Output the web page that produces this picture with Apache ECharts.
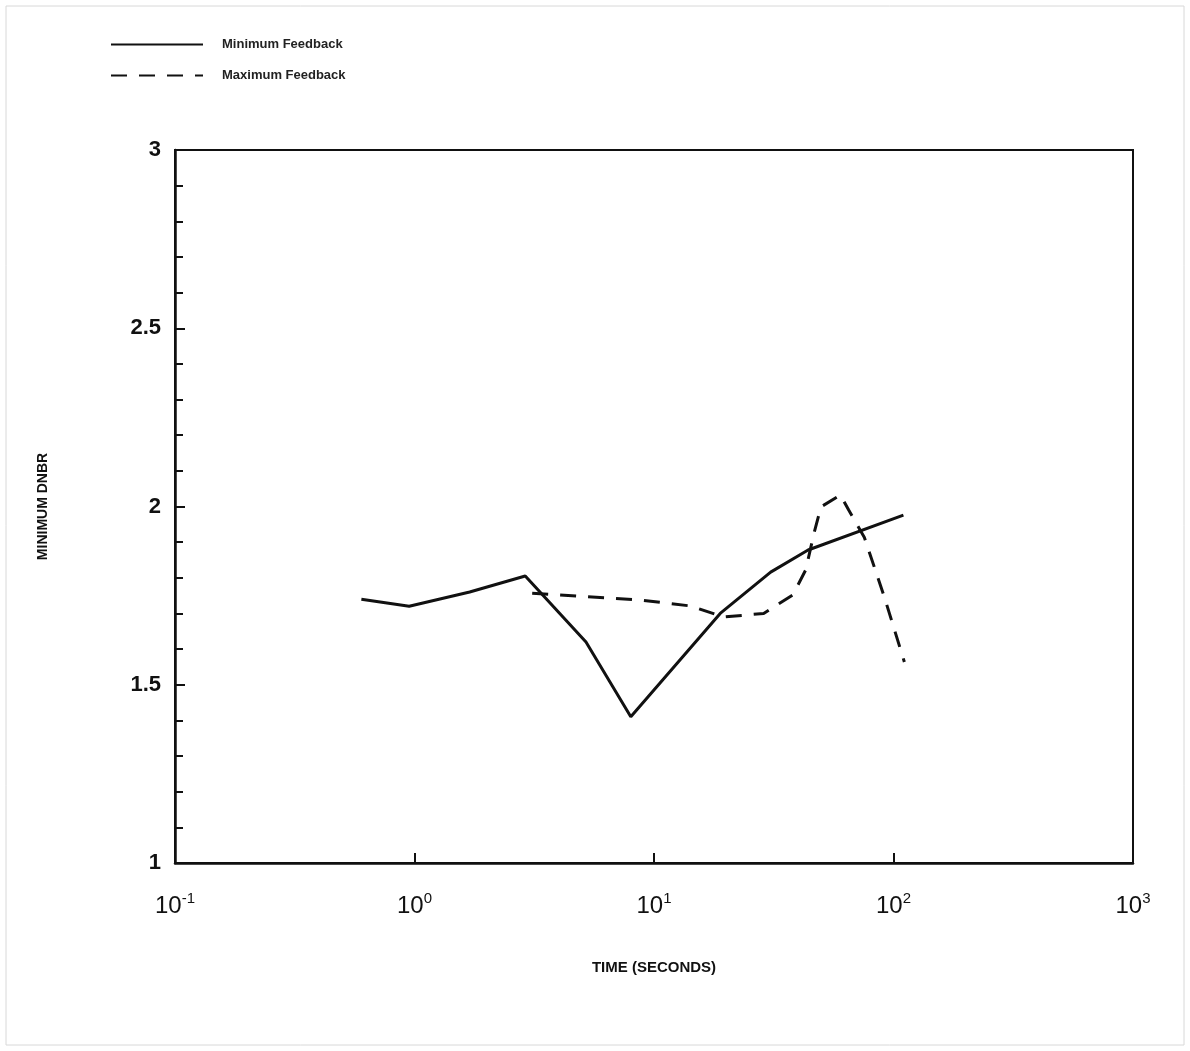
<!DOCTYPE html>
<html>
<head>
<meta charset="utf-8">
<script src="https://cdn.jsdelivr.net/npm/echarts@6/dist/echarts.min.js"></script>
<style>html,body{margin:0;padding:0;background:#fff;}#c{width:1190px;height:1051px;}</style>
</head>
<body>
<div id="c"></div>
<script>
const seriesNames = ['Minimum Feedback', 'Maximum Feedback'];
const minTime = [0.6, 0.95, 1.7, 2.9, 5.2, 8.0, 18.9, 30.7, 44, 110];
const minDnbr = [1.74, 1.72, 1.76, 1.805, 1.62, 1.41, 1.70, 1.816, 1.878, 1.976];
const maxTime = [3.1, 8.7, 14.2, 19.5, 28.7, 38, 43, 46.6, 49.8, 60, 65, 75.5, 91.6, 111];
const maxDnbr = [1.757, 1.738, 1.721, 1.69, 1.70, 1.752, 1.822, 1.926, 1.999, 2.032, 1.99, 1.914, 1.746, 1.564];
const xTicks = {0.1: '-1', 1: '0', 10: '1', 100: '2', 1000: '3'};
const yTicks = {3: '3', 2.5: '2.5', 2: '2', 1.5: '1.5', 1: '1'};

const chart = echarts.init(document.getElementById('c'));
const pairs = (xs, ys) => xs.map((x, i) => [x, ys[i]]);
const font = 'Liberation Sans, Arial, sans-serif';
chart.setOption({
  backgroundColor: '#fff',
  animation: false,
  graphic: [{
    type: 'rect', shape: {x: 6, y: 6, width: 1178, height: 1039},
    style: {fill: 'none', stroke: '#d8d8d8', lineWidth: 1}
  }],
  legend: {
    orient: 'vertical', left: 105, top: 33, itemWidth: 92, itemHeight: 14, itemGap: 18,
    itemStyle: {opacity: 0},
    textStyle: {fontFamily: font, fontWeight: 'bold', fontSize: 13, color: '#222', padding: [0, 0, 0, 14]},
    data: seriesNames
  },
  grid: {left: 175, right: 57, top: 150, bottom: 188, show: true, borderColor: '#111', borderWidth: 2},
  xAxis: {
    type: 'log', logBase: 10, min: 0.1, max: 1000,
    name: 'TIME (SECONDS)', nameLocation: 'middle', nameGap: 97,
    nameTextStyle: {fontFamily: font, fontWeight: 'bold', fontSize: 15, color: '#111'},
    axisLine: {lineStyle: {color: '#111', width: 2.5}},
    axisTick: {inside: true, length: 10, lineStyle: {color: '#111', width: 2}},
    splitLine: {show: false},
    axisLabel: {
      margin: 28, color: '#111',
      formatter: v => '{b|10}{s|' + (xTicks[+v.toPrecision(3)] ?? '') + '}',
      rich: {
        b: {fontFamily: font, fontSize: 24, color: '#111'},
        s: {fontFamily: font, fontSize: 15, color: '#111', verticalAlign: 'bottom', padding: [0, 0, 16, 0]}
      }
    }
  },
  yAxis: {
    type: 'value', min: 1, max: 3, interval: 0.5,
    name: 'MINIMUM DNBR', nameLocation: 'middle', nameGap: 125, nameRotate: 90,
    nameTextStyle: {fontFamily: font, fontWeight: 'bold', fontSize: 14, color: '#111'},
    axisLine: {show: true, lineStyle: {color: '#111', width: 2.5}},
    axisTick: {inside: true, length: 10, lineStyle: {color: '#111', width: 2}},
    minorTick: {show: true, splitNumber: 5, length: 8, lineStyle: {color: '#111', width: 2}},
    splitLine: {show: false},
    axisLabel: {
      margin: 14, fontFamily: font, fontWeight: 'bold', fontSize: 22, color: '#111',
      formatter: v => yTicks[v] ?? ''
    }
  },
  series: [
    {
      name: seriesNames[0], type: 'line', symbol: 'none', data: pairs(minTime, minDnbr),
      lineStyle: {color: '#111', width: 3}, itemStyle: {color: '#111'}
    },
    {
      name: seriesNames[1], type: 'line', symbol: 'none', data: pairs(maxTime, maxDnbr),
      lineStyle: {color: '#111', width: 3, type: [16, 12]}, itemStyle: {color: '#111'}
    }
  ]
});
</script>
</body>
</html>
